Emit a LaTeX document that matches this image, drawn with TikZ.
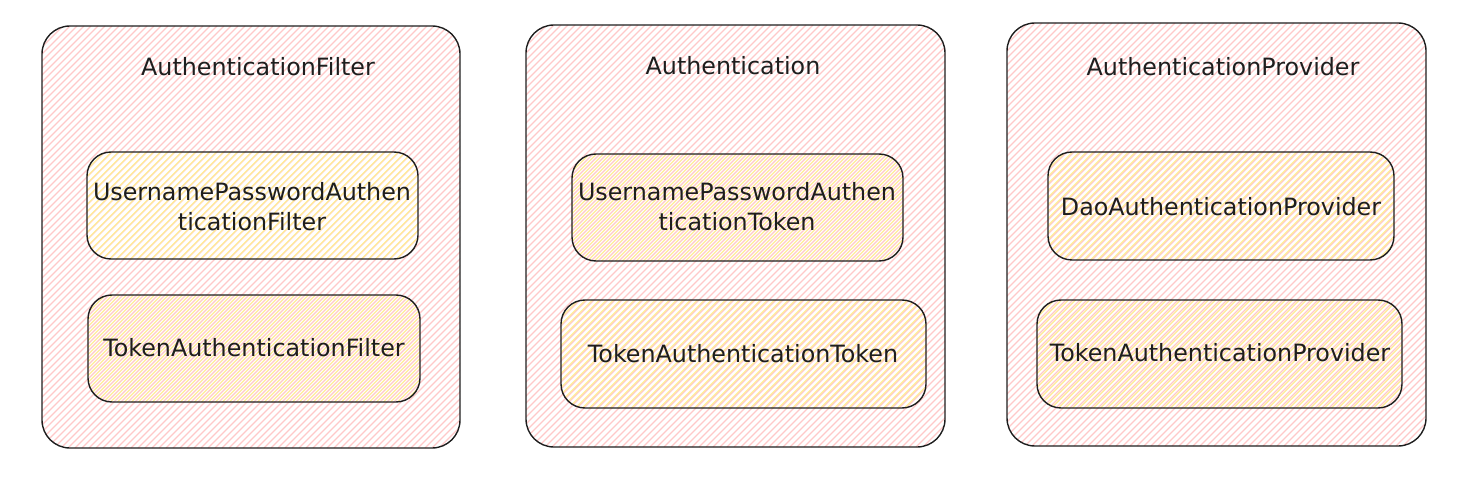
\documentclass[tikz,border=0pt]{standalone}
\usepackage{fontspec}
\setmainfont{DejaVu Sans}
\definecolor{ink}{HTML}{1E1E1E}
\definecolor{pinkh}{HTML}{FFC9C9}
\definecolor{yelh}{HTML}{FFEC99}
\newcommand\hatchbox[7]{%
  \begin{scope}
    \clip[rounded corners=#5] (#1,#2) rectangle (#3,#4);
    \pgfmathsetmacro\hs{#1+#2+#7}
    \pgfmathsetmacro\hn{#1+#2+#7+7}
    \pgfmathsetmacro\he{#3+#4}
    \foreach \s in {\hs,\hn,...,\he} \draw[#6,line width=1.1pt] (\s-#4,#4) -- (\s-#2,#2);
  \end{scope}}
\tikzset{
  outerbox/.style={draw=ink,line width=1.4pt,rounded corners=28pt},
  innerbox/.style={draw=ink,line width=1.4pt,rounded corners=24pt},
  lbl/.style={text=ink,font=\fontsize{23.8}{30}\selectfont,align=center,inner sep=0pt},
}
\begin{document}
\begin{tikzpicture}[x=1pt,y=-1pt]
\useasboundingbox (0,0) rectangle (1472,486);
% box 1
\hatchbox{42}{26}{460}{448}{28pt}{pinkh}{0}
\hatchbox{87}{152}{418}{259}{24pt}{yelh}{3.5}
\hatchbox{88}{295}{420}{402}{24pt}{yelh}{3.5}
\draw[outerbox] (42,26) rectangle (460,448);
\draw[innerbox] (87,152) rectangle (418,259);
\draw[innerbox] (88,295) rectangle (420,402);
\node[lbl] (t1) at (258,67) {AuthenticationFilter};
\node[lbl] (a1) at (252,207) {UsernamePasswordAuthen\\ticationFilter};
\node[lbl] (b1) at (254,348) {TokenAuthenticationFilter};
% box 2
\hatchbox{526}{25}{945}{447}{28pt}{pinkh}{0}
\hatchbox{572}{154}{903}{261}{24pt}{yelh}{3.5}
\hatchbox{561}{300}{926}{408}{24pt}{yelh}{3.5}
\draw[outerbox] (526,25) rectangle (945,447);
\draw[innerbox] (572,154) rectangle (903,261);
\draw[innerbox] (561,300) rectangle (926,408);
\node[lbl] (t2) at (733,66) {Authentication};
\node[lbl] (a2) at (737,207) {UsernamePasswordAuthen\\ticationToken};
\node[lbl] (b2) at (743,354) {TokenAuthenticationToken};
% box 3
\hatchbox{1007}{23}{1426}{446}{28pt}{pinkh}{0}
\hatchbox{1048}{152}{1394}{260}{24pt}{yelh}{3.5}
\hatchbox{1037}{300}{1402}{408}{24pt}{yelh}{3.5}
\draw[outerbox] (1007,23) rectangle (1426,446);
\draw[innerbox] (1048,152) rectangle (1394,260);
\draw[innerbox] (1037,300) rectangle (1402,408);
\node[lbl] (t3) at (1223,67) {AuthenticationProvider};
\node[lbl] (a3) at (1221,207) {DaoAuthenticationProvider};
\node[lbl] (b3) at (1220,353) {TokenAuthenticationProvider};
\end{tikzpicture}
\end{document}
